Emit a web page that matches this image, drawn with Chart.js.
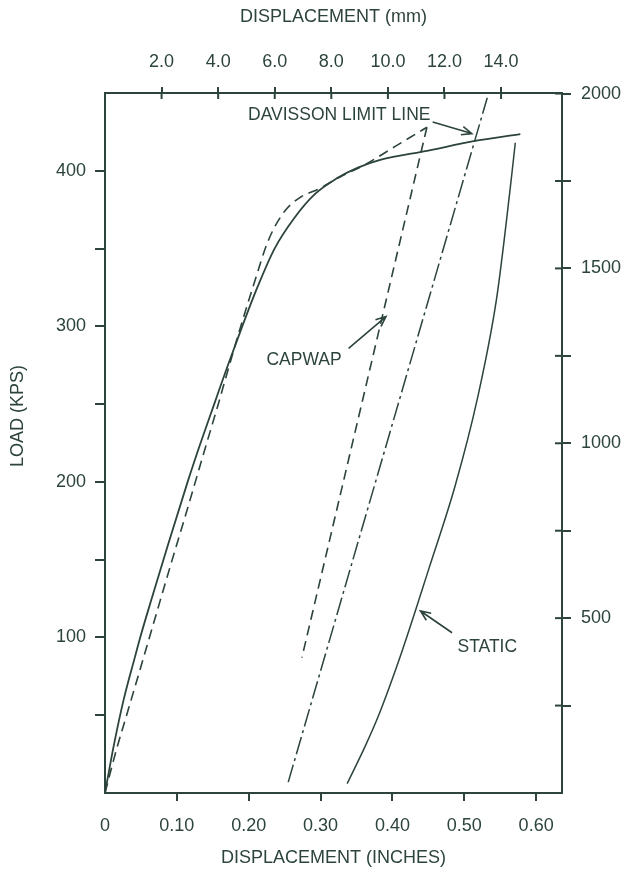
<!DOCTYPE html>
<html>
<head>
<meta charset="utf-8">
<script src="https://cdn.jsdelivr.net/npm/chart.js@4.4.0/dist/chart.umd.min.js"></script>
<style>
  body { margin: 0; background: #fff; }
  #wrap { width: 626px; height: 873px; }
</style>
</head>
<body>
<div id="wrap"><canvas id="pileChart"></canvas></div>
<script>
// displacement in inches, load in kips
const staticLoadX = [0, 0.012, 0.026, 0.042, 0.049, 0.065, 0.088, 0.115, 0.133, 0.152, 0.171, 0.191, 0.212, 0.236, 0.264, 0.292, 0.322, 0.352, 0.383, 0.450, 0.513, 0.578];
const staticLoadY = [0, 30, 60, 88, 100, 125, 160, 200, 225, 250, 275, 300, 325, 350, 370, 385, 395, 402, 407, 413, 419, 423.5];

const staticUnloadX = [0.337, 0.362, 0.380, 0.414, 0.452, 0.487, 0.518, 0.545, 0.564, 0.571];
const staticUnloadY = [6, 30, 49, 92, 146, 197, 253, 318, 389, 418];

const capwapLoadX = [0, 0.016, 0.032, 0.053, 0.077, 0.091, 0.113, 0.139, 0.157, 0.170, 0.187, 0.205, 0.228, 0.250, 0.272, 0.296, 0.327, 0.362, 0.405, 0.448];
const capwapLoadY = [0, 28, 53, 86, 124, 146, 180, 221, 249, 270, 297, 324, 356, 374, 383, 388, 396, 404, 416, 428];

const capwapUnloadX = [0.448, 0.274];
const capwapUnloadY = [428, 87];

const davissonX = [0.255, 0.532];
const davissonY = [7, 447];

const inchTicks = [0, 0.1, 0.2, 0.3, 0.4, 0.5, 0.6];
const mmTicks = [2, 4, 6, 8, 10, 12, 14];
const kipTicks = [50, 100, 150, 200, 250, 300, 350, 400];
const kipLabels = [100, 200, 300, 400];
const kNTicks = [250, 500, 750, 1000, 1250, 1500, 1750, 2000];
const kNLabels = [500, 1000, 1500, 2000];

const X_MAX = 0.636;
const Y_MAX = 450;
const INK = "#2c443a";
const FONT = "'Liberation Sans', Arial, sans-serif";

const pts = (xs, ys) => xs.map((x, i) => ({ x: x, y: ys[i] }));

// text labels + arrows, in data units
const notes = [
  { text: "DAVISSON LIMIT LINE", x: 0.326, y: 436 },
  { text: "CAPWAP", x: 0.277, y: 278 },
  { text: "STATIC", x: 0.532, y: 94 },
];
const arrows = [
  { from: [0.456, 431.4], to: [0.5105, 423.9] },
  { from: [0.339, 285.8], to: [0.391, 306.3] },
  { from: [0.483, 103], to: [0.439, 117] },
];

// top and right axes have ticks crossing the line
const crossTicks = {
  id: "crossTicks",
  afterDraw(chart) {
    const ctx = chart.ctx;
    const area = chart.chartArea;
    ctx.save();
    ctx.strokeStyle = INK;
    ctx.lineWidth = 2;
    const top = chart.scales.x2;
    top.ticks.forEach((t) => {
      const px = top.getPixelForValue(t.value);
      ctx.beginPath();
      ctx.moveTo(px, area.top);
      ctx.lineTo(px, area.top + 6);
      ctx.stroke();
    });
    const right = chart.scales.y2;
    right.ticks.forEach((t) => {
      const py = right.getPixelForValue(t.value);
      ctx.beginPath();
      ctx.moveTo(area.right - 7, py);
      ctx.lineTo(area.right, py);
      ctx.stroke();
    });
    ctx.restore();
  },
};

const callouts = {
  id: "callouts",
  afterDatasetsDraw(chart) {
    const ctx = chart.ctx;
    const sx = chart.scales.x;
    const sy = chart.scales.y;
    ctx.save();
    ctx.fillStyle = INK;
    ctx.strokeStyle = INK;
    ctx.font = "17.5px " + FONT;
    ctx.textAlign = "center";
    ctx.textBaseline = "middle";
    notes.forEach((n) => {
      ctx.fillText(n.text, sx.getPixelForValue(n.x), sy.getPixelForValue(n.y));
    });
    ctx.lineWidth = 1.6;
    arrows.forEach((a) => {
      const x0 = sx.getPixelForValue(a.from[0]);
      const y0 = sy.getPixelForValue(a.from[1]);
      const x1 = sx.getPixelForValue(a.to[0]);
      const y1 = sy.getPixelForValue(a.to[1]);
      const ang = Math.atan2(y1 - y0, x1 - x0);
      ctx.beginPath();
      ctx.moveTo(x0, y0);
      ctx.lineTo(x1, y1);
      ctx.moveTo(x1 - 11 * Math.cos(ang - 0.4), y1 - 11 * Math.sin(ang - 0.4));
      ctx.lineTo(x1, y1);
      ctx.lineTo(x1 - 11 * Math.cos(ang + 0.4), y1 - 11 * Math.sin(ang + 0.4));
      ctx.stroke();
    });
    // left axis title sits a bit above the middle in the original
    ctx.font = "18px " + FONT;
    ctx.translate(18, 416);
    ctx.rotate(-Math.PI / 2);
    ctx.fillText("LOAD (KPS)", 0, 0);
    ctx.restore();
  },
};

const tickFont = { family: FONT, size: 18 };
const titleFont = { family: FONT, size: 18 };

const lineStyle = {
  showLine: true,
  pointRadius: 0,
  borderColor: INK,
  fill: false,
};

new Chart(document.getElementById("pileChart"), {
  type: "scatter",
  data: {
    datasets: [
      { ...lineStyle, label: "Static", data: pts(staticLoadX, staticLoadY), borderWidth: 1.8, cubicInterpolationMode: "monotone" },
      { ...lineStyle, label: "Static unload", data: pts(staticUnloadX, staticUnloadY), borderWidth: 1.5, cubicInterpolationMode: "monotone" },
      { ...lineStyle, label: "CAPWAP", data: pts(capwapLoadX, capwapLoadY), borderWidth: 1.6, borderDash: [10, 6], cubicInterpolationMode: "monotone" },
      { ...lineStyle, label: "CAPWAP unload", data: pts(capwapUnloadX, capwapUnloadY), borderWidth: 1.6, borderDash: [10, 6] },
      { ...lineStyle, label: "Davisson", data: pts(davissonX, davissonY), borderWidth: 1.5, borderDash: [18, 4, 3, 4] },
    ],
  },
  options: {
    responsive: true,
    maintainAspectRatio: false,
    animation: false,
    layout: { padding: 0 },
    plugins: { legend: { display: false }, tooltip: { enabled: false } },
    scales: {
      x: {
        type: "linear",
        position: "bottom",
        min: 0,
        max: X_MAX,
        afterBuildTicks: (s) => { s.ticks = inchTicks.map((v) => ({ value: v })); },
        afterFit: (s) => { s.height = 80; },
        ticks: {
          color: INK, font: tickFont, padding: 14, maxRotation: 0, autoSkip: false,
          callback: (v) => (v === 0 ? "0" : v.toFixed(2)),
        },
        grid: {
          drawOnChartArea: false, lineWidth: 2, tickLength: 8,
          tickColor: (c) => (c.tick && c.tick.value === 0 ? "rgba(0,0,0,0)" : INK),
        },
        border: { color: INK, width: 2 },
        title: { display: true, text: "DISPLACEMENT (INCHES)", color: INK, font: titleFont, padding: { bottom: 4 } },
      },
      x2: {
        type: "linear",
        position: "top",
        min: 0,
        max: X_MAX * 25.4,
        afterBuildTicks: (s) => { s.ticks = mmTicks.map((v) => ({ value: v })); },
        afterFit: (s) => { s.height = 93; },
        ticks: { color: INK, font: tickFont, padding: 14, maxRotation: 0, autoSkip: false, callback: (v) => v.toFixed(1) },
        grid: { drawOnChartArea: false, lineWidth: 2, tickLength: 6, tickColor: INK },
        border: { color: INK, width: 2 },
        title: { display: true, text: "DISPLACEMENT (mm)", color: INK, font: titleFont, padding: { top: 6 } },
      },
      y: {
        type: "linear",
        position: "left",
        min: 0,
        max: Y_MAX,
        afterBuildTicks: (s) => { s.ticks = kipTicks.map((v) => ({ value: v })); },
        afterFit: (s) => { s.width = 105; },
        ticks: { color: INK, font: tickFont, padding: 9, autoSkip: false, callback: (v) => (kipLabels.includes(v) ? String(v) : "") },
        grid: { drawOnChartArea: false, lineWidth: 2, tickLength: 10, tickColor: INK },
        border: { color: INK, width: 2 },
      },
      y2: {
        type: "linear",
        position: "right",
        min: 0,
        max: Y_MAX * 4.448,
        afterBuildTicks: (s) => { s.ticks = kNTicks.map((v) => ({ value: v })); },
        afterFit: (s) => { s.width = 64; },
        ticks: { color: INK, font: tickFont, padding: 10, autoSkip: false, callback: (v) => (kNLabels.includes(v) ? String(v) : "") },
        grid: { drawOnChartArea: false, lineWidth: 2, tickLength: 9, tickColor: INK },
        border: { color: INK, width: 2 },
      },
    },
  },
  plugins: [crossTicks, callouts],
});
</script>
</body>
</html>
